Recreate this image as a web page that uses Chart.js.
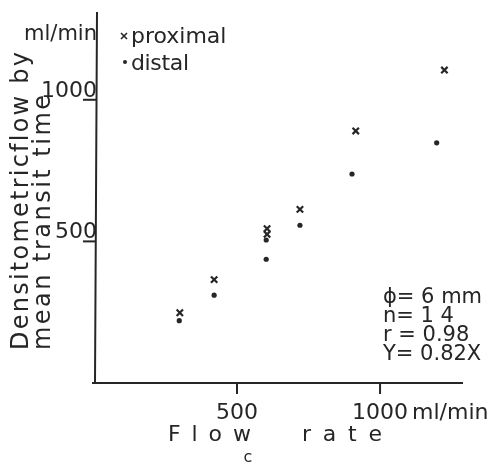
<!DOCTYPE html>
<html>
<head>
<meta charset="utf-8">
<script src="https://cdn.jsdelivr.net/npm/chart.js@4"></script>
<style>
  html, body { margin: 0; padding: 0; background: #fff; }
  #wrap { width: 495px; height: 468px; position: relative; }
</style>
</head>
<body>
<div id="wrap"><canvas id="flow-chart"></canvas></div>
<script>
  // flow rate (ml/min) vs densitometric flow by mean transit time (ml/min)
  const proximalX = [300, 420, 605, 605, 720, 915, 1225];
  const proximalY = [248, 365, 545, 525, 613, 890, 1105];
  const distalX = [298, 420, 602, 602, 720, 902, 1198];
  const distalY = [220, 310, 505, 437, 557, 738, 848];

  const xTicks = [500, 1000];
  const yTicks = [500, 1000];
  const statsLines = ['\u03D5= 6 mm', 'n= 1 4', 'r = 0.98', 'Y= 0.82X'];

  const ink = '#262626';
  const font = 'DejaVu Sans';

  const toPoints = (xs, ys) => xs.map((x, i) => ({ x: x, y: ys[i] }));

  // spread text to a given pixel length
  const spacedText = (ctx, text, x, y, length) => {
    ctx.letterSpacing = '0px';
    const natural = ctx.measureText(text).width;
    const gap = (length - natural) / Math.max(1, text.length - 1);
    ctx.letterSpacing = gap + 'px';
    ctx.fillText(text, x, y);
    ctx.letterSpacing = '0px';
  };

  const axesPlugin = {
    id: 'handAxes',
    beforeDatasetsDraw(chart) {
      const { ctx, scales: { x, y } } = chart;
      const x0 = x.getPixelForValue(0);
      const y0 = y.getPixelForValue(0);
      ctx.save();
      ctx.strokeStyle = ink;
      ctx.fillStyle = ink;
      ctx.lineWidth = 2;

      // axis lines
      ctx.beginPath();
      ctx.moveTo(x0 - 2, y0);
      ctx.lineTo(x.right, y0);
      ctx.moveTo(x0 + 1, y0);
      ctx.lineTo(x0 + 3, y.top);
      ctx.stroke();

      // x ticks point down, labels underneath
      ctx.font = '22px "' + font + '"';
      ctx.textAlign = 'center';
      ctx.textBaseline = 'alphabetic';
      xTicks.forEach(v => {
        const px = x.getPixelForValue(v);
        ctx.beginPath();
        ctx.moveTo(px, y0);
        ctx.lineTo(px, y0 + 11);
        ctx.stroke();
        ctx.fillText(String(v), px, y0 + 36);
      });
      ctx.textAlign = 'left';
      ctx.fillText('ml/min', x.getPixelForValue(1000) + 32, y0 + 36);

      // y ticks point left, labels sit on top of them
      ctx.textAlign = 'right';
      yTicks.forEach(v => {
        const py = y.getPixelForValue(v);
        ctx.beginPath();
        ctx.moveTo(x0 + 2, py);
        ctx.lineTo(x0 - 11, py);
        ctx.stroke();
        ctx.fillText(String(v), x0 + 3, py - 3);
      });
      ctx.font = '21px "' + font + '"';
      ctx.fillText('ml/min', x0 + 3, 40);

      // x title, widely spaced
      ctx.font = '22px "' + font + '"';
      ctx.textAlign = 'left';
      spacedText(ctx, 'Flow', 168, 441, 83);
      spacedText(ctx, 'rate', 302, 441, 80);

      ctx.font = '16px "' + font + '"';
      ctx.textAlign = 'center';
      ctx.fillText('c', 248, 462);

      // y title, rotated
      ctx.save();
      ctx.rotate(-Math.PI / 2);
      ctx.textAlign = 'left';
      ctx.font = '24px "' + font + '"';
      spacedText(ctx, 'Densitometricflow by', -350, 28, 298);
      spacedText(ctx, 'mean transit time', -350, 50, 255);
      ctx.restore();

      // legend
      ctx.lineWidth = 1.6;
      ctx.beginPath();
      ctx.moveTo(121, 33); ctx.lineTo(127, 39);
      ctx.moveTo(127, 33); ctx.lineTo(121, 39);
      ctx.stroke();
      ctx.beginPath();
      ctx.arc(125, 62, 2, 0, Math.PI * 2);
      ctx.fill();
      ctx.font = '22px "' + font + '"';
      ctx.textAlign = 'left';
      ctx.fillText('proximal', 131, 43);
      spacedText(ctx, 'distal', 131, 70, 58);

      // stats block
      ctx.font = '21px "' + font + '"';
      statsLines.forEach((line, i) => {
        ctx.fillText(line, 383, 303 + i * 19);
      });
      ctx.restore();
    }
  };

  const ctx = document.getElementById('flow-chart');
  const chart = new Chart(ctx, {
    type: 'scatter',
    data: {
      datasets: [
        {
          label: 'proximal',
          data: toPoints(proximalX, proximalY),
          pointStyle: 'crossRot',
          pointRadius: 4.5,
          borderWidth: 2.2,
          borderColor: ink,
          backgroundColor: ink,
        },
        {
          label: 'distal',
          data: toPoints(distalX, distalY),
          pointStyle: 'circle',
          pointRadius: 2.6,
          borderWidth: 0,
          borderColor: ink,
          backgroundColor: ink,
        },
      ],
    },
    options: {
      responsive: true,
      maintainAspectRatio: false,
      animation: false,
      layout: {
        padding: { left: 94, right: 32, top: 12, bottom: 85 },
      },
      scales: {
        x: { type: 'linear', min: 0, max: 1290, display: false },
        y: { type: 'linear', min: 0, max: 1310, display: false },
      },
      plugins: {
        legend: { display: false },
        tooltip: { enabled: false },
      },
    },
    plugins: [axesPlugin],
  });
</script>
</body>
</html>
